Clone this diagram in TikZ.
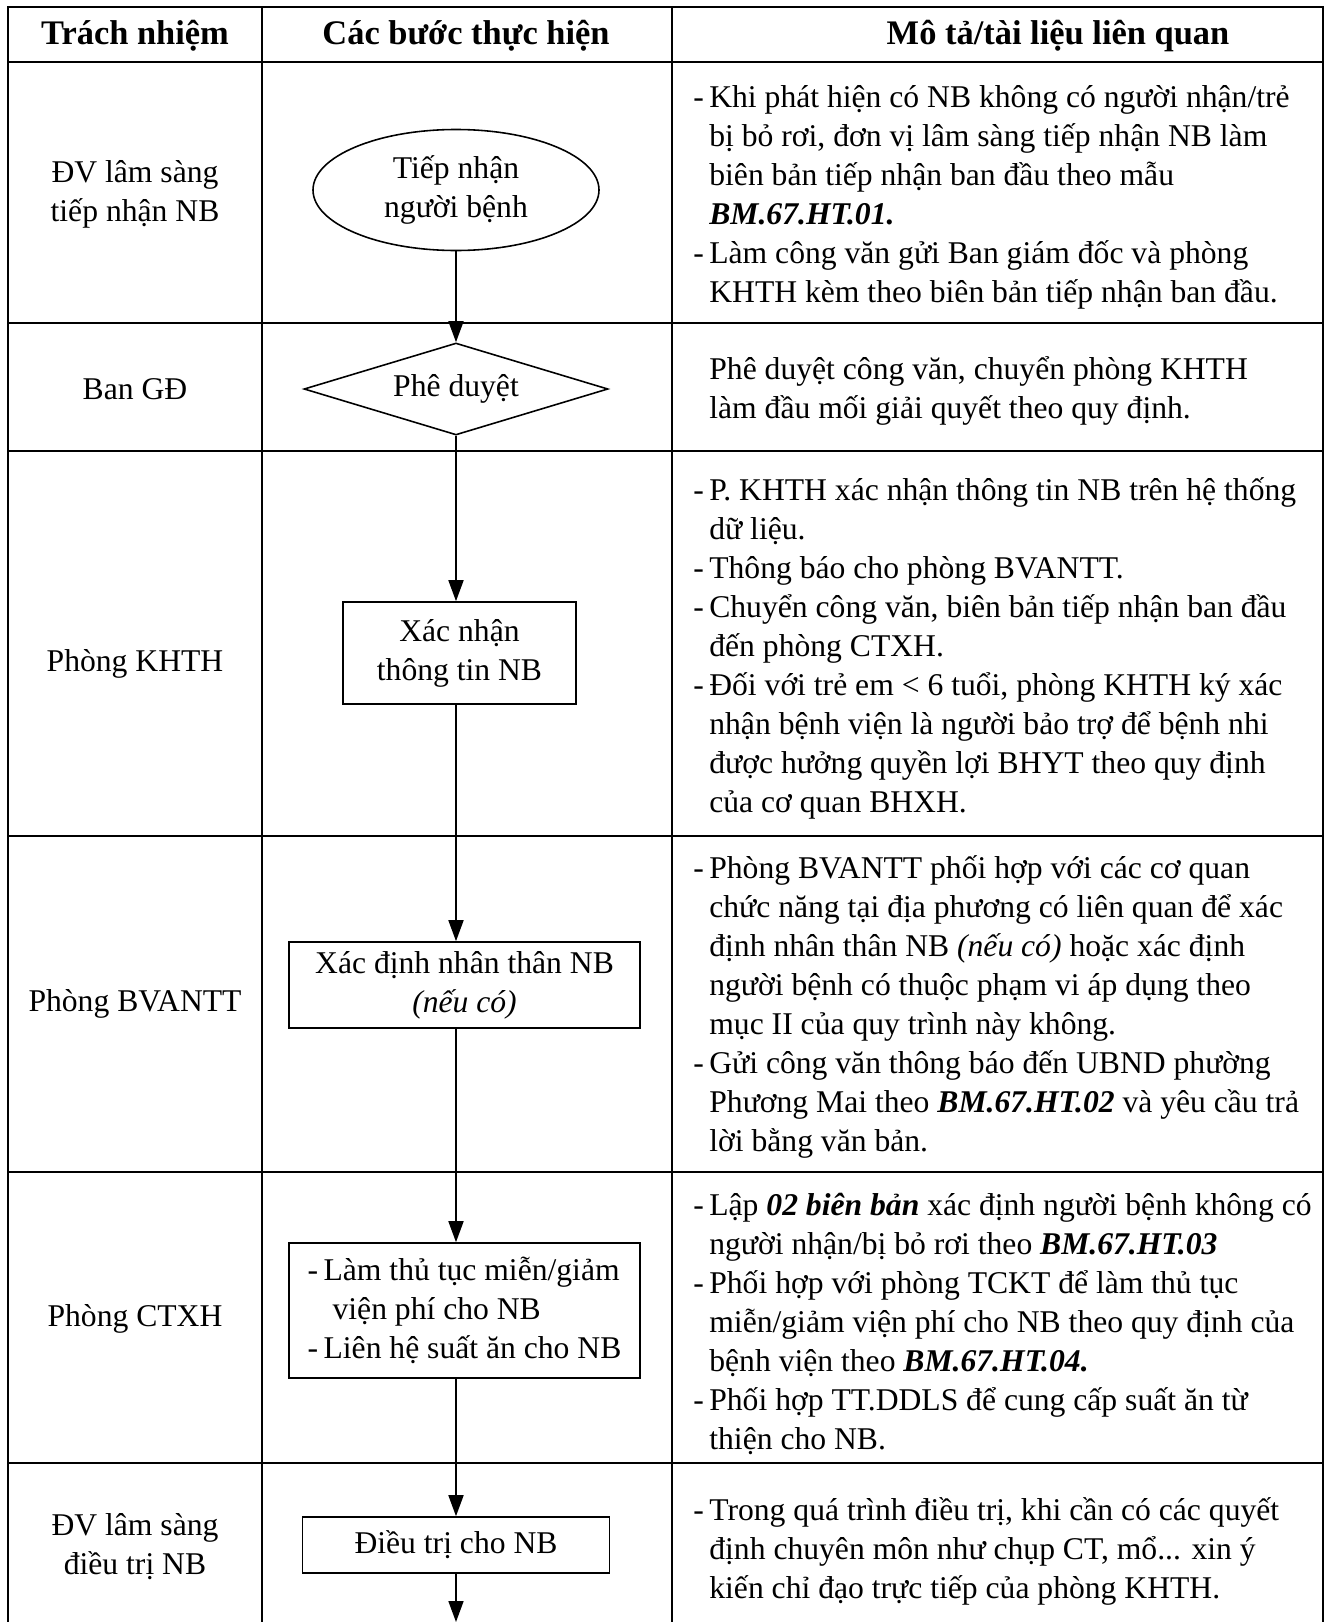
\documentclass[tikz,border=0pt]{standalone}
\usepackage{fontspec}
\setmainfont{Liberation Serif}
\usepackage{tikz}
\usetikzlibrary{shapes.geometric, arrows.meta}
\usetikzlibrary{positioning}
\def\chu{\fontsize{18pt}{22.2pt}\selectfont}
\def\chuto{\fontsize{19.6pt}{23pt}\selectfont}
\def\gach{\makebox[0.32cm][l]{-}}
\def\lui{\hspace*{0.32cm}}
\def\sohieu#1{\textbf{\textit{#1}}}
\tikzstyle{khung} = [line width=1.3pt]
\tikzstyle{batdau} = [ellipse, draw, line width=0.9pt, minimum width=5.72cm, minimum height=2.42cm, align=center, inner sep=0pt]
\tikzstyle{duyet} = [diamond, draw, line width=0.9pt, minimum width=6.08cm, minimum height=1.84cm, aspect=3, inner sep=0pt]
\tikzstyle{buoc} = [rectangle, draw, line width=0.9pt, align=center, inner sep=2pt]
\tikzstyle{mota} = [anchor=west, align=left, inner sep=0pt]
\tikzstyle{nguoi} = [align=center]
\tikzstyle{tieude} = [font=\chuto\bfseries]
\tikzstyle{muiten} = [-{Triangle[length=0.42cm, width=0.3cm]}, line width=1pt]
\begin{document}
\begin{tikzpicture}[font=\chu]
  \useasboundingbox (0,0) rectangle (26.54,-32.44);

  % khung bang
  \draw[khung] (0.16,-32.44) -- (0.16,-0.14) -- (26.46,-0.14) -- (26.46,-32.44);
  \foreach \x in {5.24,13.44}
    \draw[khung] (\x,-0.14) -- (\x,-32.44);
  \foreach \y in {-1.24,-6.46,-9.02,-16.72,-23.44,-29.26}
    \draw[khung] (0.16,\y) -- (26.46,\y);

  \node[tieude] (h1) at (2.70,-0.72) {Trách nhiệm};
  \node[tieude] (h2) at (9.32,-0.72) {Các bước thực hiện};
  \node[tieude] (h3) at (21.16,-0.72) {Mô tả/tài liệu liên quan};

  \foreach \y/\ten/\i in {-3.88/{ĐV lâm sàng\\tiếp nhận NB}/1, -7.78/{Ban GĐ}/2, -13.28/{Phòng KHTH}/3,
                          -20.08/{Phòng BVANTT}/4, -26.38/{Phòng CTXH}/5, -30.94/{ĐV lâm sàng\\điều trị NB}/6}{
    \node[nguoi] (tn\i) at (2.70,\y) {\ten};
  }

  \node[batdau] (tiepnhan) at (9.12,-3.80) {Tiếp nhận\\người bệnh};
  \node[duyet] (pheduyet) at (9.12,-7.78) {Phê duyệt};
  \node[buoc, minimum width=4.66cm, minimum height=2.04cm] (xacnhan) at (9.19,-13.06) {Xác nhận\\thông tin NB};
  \node[buoc, minimum width=7.02cm, minimum height=1.72cm] (nhanthan) at (9.29,-19.70) {Xác định nhân thân NB\\\textit{(nếu có)}};
  \node[buoc, minimum width=7.02cm, minimum height=2.70cm, align=left] (mienphi) at (9.29,-26.21)
       {\gach Làm thủ tục miễn/giảm\\\hspace*{0.5cm}viện phí cho NB\\\gach Liên hệ suất ăn cho NB};
  \node[buoc, minimum width=6.14cm, minimum height=1.12cm] (dieutri) at (9.12,-30.90) {Điều trị cho NB};
  \coordinate (het) at (9.12,-32.44);

  \draw[muiten] (tiepnhan) -- (pheduyet);
  \draw[muiten] (pheduyet) -- (pheduyet |- xacnhan.north);
  \draw[muiten] (xacnhan.south -| pheduyet) -- (pheduyet |- nhanthan.north);
  \draw[muiten] (nhanthan.south -| pheduyet) -- (pheduyet |- mienphi.north);
  \draw[muiten] (mienphi.south -| pheduyet) -- (dieutri);
  \draw[muiten] (dieutri) -- (het);

  \node[mota] (mt1) at (13.86,-3.94) {\gach Khi phát hiện có NB không có người nhận/trẻ\\
    \lui bị bỏ rơi, đơn vị lâm sàng tiếp nhận NB làm\\
    \lui biên bản tiếp nhận ban đầu theo mẫu\\
    \lui \sohieu{BM.67.HT.01.}\\
    \gach Làm công văn gửi Ban giám đốc và phòng\\
    \lui KHTH kèm theo biên bản tiếp nhận ban đầu.};
  \node[mota] (mt2) at (14.18,-7.82) {Phê duyệt công văn, chuyển phòng KHTH\\
    làm đầu mối giải quyết theo quy định.};
  \node[mota] (mt3) at (13.86,-12.96) {\gach P. KHTH xác nhận thông tin NB trên hệ thống\\
    \lui dữ liệu.\\
    \gach Thông báo cho phòng BVANTT.\\
    \gach Chuyển công văn, biên bản tiếp nhận ban đầu\\
    \lui đến phòng CTXH.\\
    \gach Đối với trẻ em < 6 tuổi, phòng KHTH ký xác\\
    \lui nhận bệnh viện là người bảo trợ để bệnh nhi\\
    \lui được hưởng quyền lợi BHYT theo quy định\\
    \lui của cơ quan BHXH.};
  \node[mota] (mt4) at (13.86,-20.14) {\gach Phòng BVANTT phối hợp với các cơ quan\\
    \lui chức năng tại địa phương có liên quan để xác\\
    \lui định nhân thân NB \textit{(nếu có)} hoặc xác định\\
    \lui người bệnh có thuộc phạm vi áp dụng theo\\
    \lui mục II của quy trình này không.\\
    \gach Gửi công văn thông báo đến UBND phường\\
    \lui Phương Mai theo \sohieu{BM.67.HT.02} và yêu cầu trả\\
    \lui lời bằng văn bản.};
  \node[mota] (mt5) at (13.86,-26.48) {\gach Lập \sohieu{02 biên bản} xác định người bệnh không có\\
    \lui người nhận/bị bỏ rơi theo \sohieu{BM.67.HT.03}\\
    \gach Phối hợp với phòng TCKT để làm thủ tục\\
    \lui miễn/giảm viện phí cho NB theo quy định của\\
    \lui bệnh viện theo \sohieu{BM.67.HT.04.}\\
    \gach Phối hợp TT.DDLS để cung cấp suất ăn từ\\
    \lui thiện cho NB.};
  \node[mota] (mt6) at (13.86,-31.02) {\gach Trong quá trình điều trị, khi cần có các quyết\\
    \lui định chuyên môn như chụp CT, mổ... xin ý\\
    \lui kiến chỉ đạo trực tiếp của phòng KHTH.};

\end{tikzpicture}
\end{document}
